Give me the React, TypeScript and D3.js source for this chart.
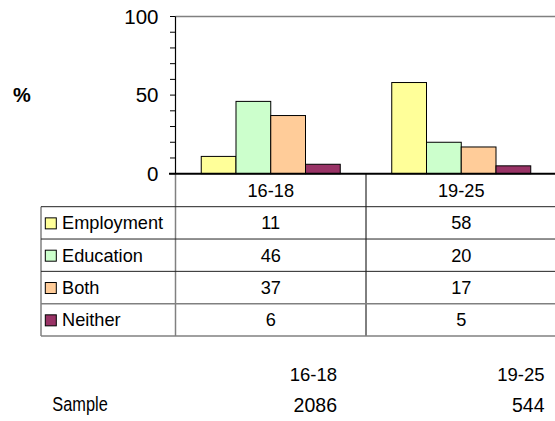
import React from "react";
import * as d3 from "d3";

const categories = ["16-18", "19-25"];
const seriesNames = ["Employment", "Education", "Both", "Neither"];
const employment = [11, 58];
const education = [46, 20];
const both = [37, 17];
const neither = [6, 5];
const seriesColors = ["#FFFF99", "#CCFFCC", "#FFCC99", "#993366"];
const yTicks = [0, 50, 100];
const sampleLabel = "Sample";
const sampleValues = [2086, 544];

const seriesValues = [employment, education, both, neither];
const FONT = "'Liberation Sans', Arial, Helvetica, sans-serif";

export default function App() {
  const W = 555, H = 421;
  const plotLeft = 175.5, plotRight = 556.5;
  const y0 = 173.7, yTop = 16.5;
  const tableLeft = 41, headerBottom = 206.7, tableBottom = 336;

  const x = d3.scaleBand<string>().domain(categories).range([plotLeft, plotRight]).padding(0);
  const xs = d3.scaleBand<string>().domain(seriesNames).range([0, x.bandwidth()]).paddingInner(0).paddingOuter(0.741);
  const y = d3.scaleLinear().domain([0, 100]).range([y0, yTop]);
  const rows = d3.scaleBand<string>().domain(seriesNames).range([headerBottom, tableBottom]);
  const minorTicks = d3.range(0, 101, 10);
  const tfs = 18.2;

  return (
    <svg width={W} height={H} style={{ position: "absolute", left: 0, top: 0 }} fontFamily={FONT}>
      <rect x={0} y={0} width={W} height={H} fill="#fff" />
      <line x1={plotLeft} x2={W} y1={yTop} y2={yTop} stroke="#808080" strokeWidth={1.5} />
      {categories.map((c, ci) =>
        seriesNames.map((s, si) => {
          const v = seriesValues[si][ci];
          const bx = (x(c) ?? 0) + (xs(s) ?? 0);
          return (
            <rect key={c + s} x={bx} y={y(v)} width={xs.bandwidth()} height={y0 - y(v)}
              fill={seriesColors[si]} stroke="#000" strokeWidth={1} />
          );
        })
      )}
      {minorTicks.map((t) => (
        <line key={t} x1={170} x2={plotLeft} y1={y(t)} y2={y(t)} stroke="#000" strokeWidth={1} />
      ))}
      {yTicks.map((t) => (
        <text key={t} x={158.5} y={y(t) + 7} textAnchor="end" fontSize={20.5} fill="#000">{t}</text>
      ))}
      <text x={13} y={101.5} fontSize={20} fontWeight="bold" fill="#000">%</text>
      <line x1={plotLeft} x2={plotLeft} y1={yTop} y2={y0} stroke="#000" strokeWidth={1.2} />
      <line x1={plotLeft} x2={plotLeft} y1={y0} y2={tableBottom} stroke="#808080" strokeWidth={1.5} />
      <line x1={tableLeft} x2={tableLeft} y1={headerBottom} y2={tableBottom} stroke="#808080" strokeWidth={1.5} />
      <line x1={x(categories[1])} x2={x(categories[1])} y1={y0} y2={tableBottom} stroke="#000" strokeWidth={1} />
      <line x1={tableLeft} x2={W} y1={headerBottom} y2={headerBottom} stroke="#222" strokeWidth={1} />
      {seriesNames.map((s, i) => {
        const yb = (rows(s) ?? 0) + rows.bandwidth();
        const gray = i >= 2;
        return (
          <line key={"l" + s} x1={tableLeft} x2={W} y1={yb} y2={yb}
            stroke={gray ? "#808080" : "#222"} strokeWidth={gray ? 1.5 : 1} />
        );
      })}
      {categories.map((c) => (
        <text key={"h" + c} x={(x(c) ?? 0) + x.bandwidth() / 2} y={197} textAnchor="middle" fontSize={tfs} fill="#000">{c}</text>
      ))}
      {seriesNames.map((s, si) => {
        const cy = (rows(s) ?? 0) + rows.bandwidth() / 2;
        return (
          <g key={"r" + s}>
            <rect x={45.3} y={cy - 5} width={11} height={11} fill={seriesColors[si]} stroke="#000" strokeWidth={1} />
            <text x={62} y={cy + 6.5} fontSize={tfs} fill="#000">{s}</text>
            {categories.map((c, ci) => (
              <text key={c} x={(x(c) ?? 0) + x.bandwidth() / 2} y={cy + 6.5} textAnchor="middle" fontSize={tfs} fill="#000">
                {seriesValues[si][ci]}
              </text>
            ))}
          </g>
        );
      })}
      <line x1={169} x2={W} y1={y0} y2={y0} stroke="#000" strokeWidth={2} />
      {categories.map((c, ci) => (
        <g key={"s" + c}>
          <text x={ci === 0 ? 337 : 544.5} y={381} textAnchor="end" fontSize={18.5} fill="#000">{c}</text>
          <text x={ci === 0 ? 337 : 544.5} y={412} textAnchor="end" fontSize={19.5} fill="#000">{sampleValues[ci]}</text>
        </g>
      ))}
      <text x={52.3} y={411} fontSize={19.5} fill="#000"
        style={{ transform: "scaleX(0.84)", transformBox: "fill-box", transformOrigin: "left" }}>{sampleLabel}</text>
    </svg>
  );
}
